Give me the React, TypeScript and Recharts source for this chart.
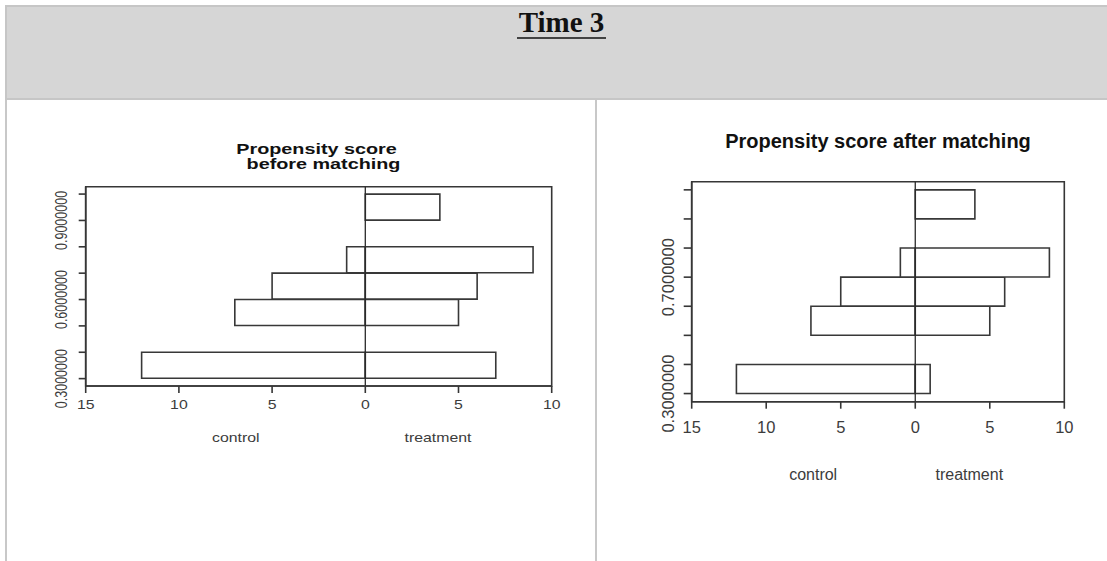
import React from 'react';
import { BarChart, Bar, XAxis, YAxis, ReferenceLine, ReferenceArea } from 'recharts';

// ---------- data ----------
const binLabels = ['0.3-0.4', '0.4-0.5', '0.5-0.6', '0.6-0.7', '0.7-0.8', '0.8-0.9', '0.9-1.0'];
const beforeControl = [12, 0, 7, 5, 1, 0, 0];
const beforeTreatment = [7, 0, 5, 6, 9, 0, 4];
const afterControl = [12, 0, 7, 5, 1, 0, 0];
const afterTreatment = [1, 0, 5, 6, 9, 0, 4];
const xTicks = [-15, -10, -5, 0, 5, 10];
const yTicks = [0.3, 0.4, 0.5, 0.6, 0.7, 0.8, 0.9, 1.0];
const beforeYLabels = [0.3, 0.6, 0.9];
const afterYLabels = [0.3, 0.7];
const headerTitle = 'Time 3';
const beforeTitle = ['Propensity score', 'before matching'];
const afterTitle = 'Propensity score after matching';
const groupNames = ['control', 'treatment'];

const FONT = 'Liberation Sans, Arial, Helvetica, sans-serif';
const LINE = '#363636';
const TXT = '#3c3c3c';

type Geo = {
  svgW: number; svgH: number; mLeft: number; mTop: number; mRight: number; mBottom: number;
  xAxisH: number; yAxisW: number; tickFs: number; sx: number; yFs: number; yLabelDx: number;
  xLabelDy: number; nameFs: number; nameDy: number; namePos: number[]; ySize: number;
};

function Pyramid({ control, treatment, yLabels, g }: { control: number[]; treatment: number[]; yLabels: number[]; g: Geo }) {
  const data = binLabels.map((b, i) => ({
    bin: b,
    mid: (yTicks[i] + yTicks[i + 1]) / 2,
    control: -control[i],
    treatment: treatment[i],
  }));
  const plotH = g.svgH - g.mTop - g.mBottom - g.xAxisH;
  const span = yTicks[yTicks.length - 1] - yTicks[0];
  const ext = span * 0.04;
  const pad = (plotH * ext) / (span + 2 * ext);
  const yDomain = [yTicks[0] - ext, yTicks[yTicks.length - 1] + ext];

  const XTick = (p: any) => {
    const v = Math.abs(p.payload.value);
    return (
      <text transform={`translate(${p.x},${p.y + g.xLabelDy}) scale(${g.sx},1)`} x={0} y={0}
        textAnchor="middle" fontSize={g.tickFs} fontFamily={FONT} fill={TXT}>{v}</text>
    );
  };
  const YTick = (p: any) => {
    const v = p.payload.value;
    if (!yLabels.some((l) => Math.abs(l - v) < 1e-6)) return <g />;
    const cx = p.x - g.yLabelDx;
    return (
      <text x={0} y={0} transform={`translate(${cx},${p.y}) scale(${g.sx},1) rotate(-90)`} textAnchor="middle" dy="0.36em"
        fontSize={g.yFs} fontFamily={FONT} fill={TXT}>{Number(v).toFixed(7)}</text>
    );
  };
  const names = (p: any) => {
    const vb = p.viewBox || {};
    return (
      <g>
        {groupNames.map((n, i) => (
          <text key={n} transform={`translate(${vb.x + vb.width * g.namePos[i]},${vb.y + g.nameDy}) scale(${g.sx},1)`}
            x={0} y={0} textAnchor="middle" fontSize={g.nameFs} fontFamily={FONT} fill={TXT}>{n}</text>
        ))}
      </g>
    );
  };

  return (
    <BarChart width={g.svgW} height={g.svgH} data={data} layout="vertical" stackOffset="sign"
      barCategoryGap={0} barGap={0}
      margin={{ top: g.mTop, left: g.mLeft, right: g.mRight, bottom: g.mBottom }}>
      <XAxis type="number" scale="linear" domain={[xTicks[0], xTicks[xTicks.length - 1]]} ticks={xTicks} allowDataOverflow
        height={g.xAxisH} tickSize={7} tickMargin={0} stroke={LINE} strokeWidth={1.6}
        tick={XTick} interval={0} label={names} />
      <YAxis yAxisId="num" type="number" dataKey="mid" scale="linear" domain={yDomain} ticks={yTicks} allowDataOverflow reversed
        width={g.yAxisW} tickSize={g.ySize} tickMargin={0} stroke={LINE} strokeWidth={1.6}
        tick={YTick} interval={0} />
      <YAxis yAxisId="cat" type="category" dataKey="bin" reversed hide width={0} padding={{ top: pad, bottom: pad }} />
      <ReferenceArea yAxisId="num" x1={xTicks[0]} x2={xTicks[xTicks.length - 1]} fill="none" fillOpacity={0}
        stroke={LINE} strokeWidth={1.6} ifOverflow="visible" />
      <Bar yAxisId="cat" dataKey="control" stackId="p" fill="#ffffff" stroke="#383838" strokeWidth={1.6} isAnimationActive={false} />
      <Bar yAxisId="cat" dataKey="treatment" stackId="p" fill="#ffffff" stroke="#383838" strokeWidth={1.6} isAnimationActive={false} />
      <ReferenceLine yAxisId="num" x={0} stroke="#2a2a2a" strokeWidth={1.3} ifOverflow="visible" />
    </BarChart>
  );
}

const leftGeo: Geo = {
  svgW: 595, svgH: 360, mLeft: 45.7, mTop: 86.7, mRight: 43.3, mBottom: 14, xAxisH: 60, yAxisW: 40,
  tickFs: 12, sx: 1.32, yFs: 12.5, yLabelDx: 17.7, xLabelDy: 15.7, nameFs: 12, nameDy: 56,
  namePos: [0.322, 0.756], ySize: 7,
};
const rightGeo: Geo = {
  svgW: 510, svgH: 400, mLeft: 54.7, mTop: 81.7, mRight: 42.7, mBottom: 8.3, xAxisH: 90, yAxisW: 40,
  tickFs: 16.5, sx: 1, yFs: 16.5, yLabelDx: 15.4, xLabelDy: 24.6, nameFs: 16, nameDy: 77.8,
  namePos: [0.326, 0.745], ySize: 8,
};

export default function App() {
  return (
    <div style={{ position: 'absolute', left: 0, top: 0, width: 1107, height: 561, background: '#ffffff', overflow: 'hidden' }}>
      <div style={{
        position: 'absolute', left: 5, top: 5, width: 1110, height: 95, boxSizing: 'border-box', background: '#d6d6d6',
        borderTop: '2px solid #c6c6c6', borderLeft: '2px solid #c6c6c6', borderBottom: '2px solid #c6c6c6',
      }} />
      <div style={{ position: 'absolute', left: 5, top: 100, width: 2, height: 461, background: '#c8c8c8' }} />
      <div style={{ position: 'absolute', left: 595, top: 100, width: 2, height: 461, background: '#c8c8c8' }} />
      <div style={{ position: 'absolute', left: 0, top: 100 }}>
        <Pyramid control={beforeControl} treatment={beforeTreatment} yLabels={beforeYLabels} g={leftGeo} />
      </div>
      <div style={{ position: 'absolute', left: 597, top: 100 }}>
        <Pyramid control={afterControl} treatment={afterTreatment} yLabels={afterYLabels} g={rightGeo} />
      </div>
      <svg width={1107} height={561} style={{ position: 'absolute', left: 0, top: 0, pointerEvents: 'none' }}>
        <text x={561.5} y={31.7} textAnchor="middle" fontFamily="Liberation Serif, Times New Roman, serif" fontWeight="bold"
          fontSize={29} fill="#111">{headerTitle}</text>
        <line x1={517} x2={606} y1={38} y2={38} stroke="#111" strokeWidth={1.6} />
        <text transform="translate(316.5,154) scale(1.32,1)" x={0} y={0} textAnchor="middle" fontFamily={FONT}
          fontWeight="bold" fontSize={15} fill="#111">{beforeTitle[0]}</text>
        <text transform="translate(323.5,169.3) scale(1.32,1)" x={0} y={0} textAnchor="middle" fontFamily={FONT}
          fontWeight="bold" fontSize={15} fill="#111">{beforeTitle[1]}</text>
        <text x={878} y={148.3} textAnchor="middle" fontFamily={FONT} fontWeight="bold" fontSize={20} fill="#111">{afterTitle}</text>
      </svg>
    </div>
  );
}
